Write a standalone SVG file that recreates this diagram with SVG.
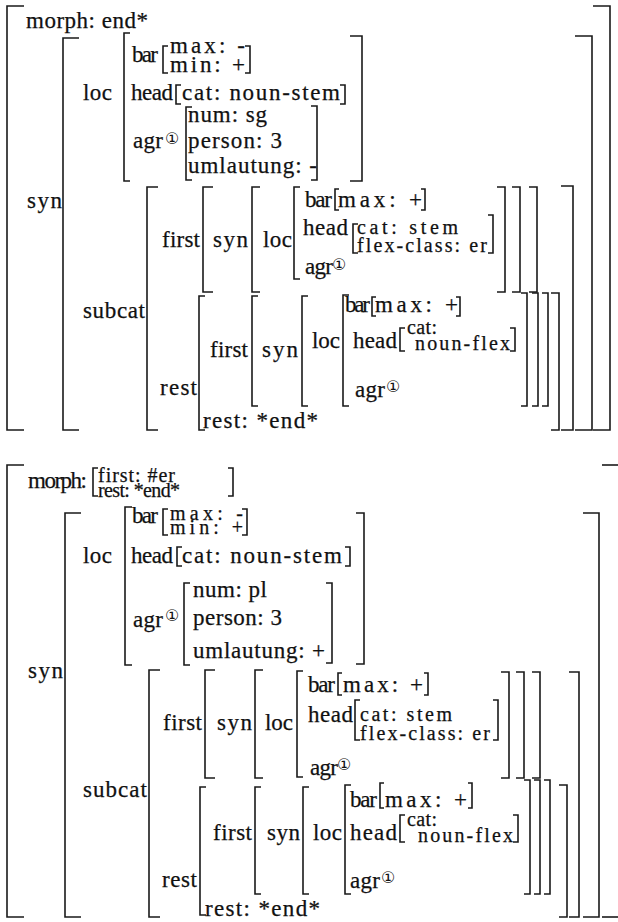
<svg xmlns="http://www.w3.org/2000/svg" width="618" height="922" viewBox="0 0 618 922">
<style>
.t{font-family:"Liberation Serif","Times New Roman",serif;font-size:23px;fill:#111;stroke:#111;stroke-width:0.25}
.s{font-size:20px}
.g{font-family:"DejaVu Sans","Noto Sans CJK SC",sans-serif;font-size:16px;fill:#111}
.b{fill:none;stroke:#1a1a1a;stroke-width:1.6}
</style>
<rect width="618" height="922" fill="#fff"/>
<g id="avm-top">
<g id="top-brackets" class="b">
<path d="M24,6H7V430H24"/><path d="M79,38H63V430H79"/><path d="M130,33H124V181H130"/>
<path d="M168,46H163V73H168"/><path d="M181,85H176V104H181"/><path d="M192,107H186V180H192"/>
<path d="M158,187H147V430H158"/><path d="M213,187H203V292H213"/><path d="M260,187H252V292H260"/>
<path d="M300,187H294V279H300"/><path d="M339,189H335V210H339"/><path d="M358,224H353V253H358"/>
<path d="M205,296H199V430H205"/><path d="M258,296H252V406H258"/><path d="M308,296H302V406H308"/>
<path d="M349,295H343V406H349"/><path d="M376,297H372V316H376"/><path d="M405,328H400V351H405"/>
<path d="M593,6H610V430H593"/><path d="M575,36H592V430H575"/><path d="M350,36H362V181H350"/>
<path d="M245,46H250V73H245"/><path d="M340,85H345V104H340"/><path d="M311,106H317V180H311"/>
<path d="M561,186H573V430H561"/><path d="M529,187H537V292H529"/><path d="M512,187H520V292H512"/>
<path d="M497,187H505V292H497"/><path d="M421,189H425V210H421"/><path d="M488,215H493V253H488"/>
<path d="M551,293H559V430H551"/><path d="M542,293H548V406H542"/><path d="M532,293H538V406H532"/>
<path d="M521,293H527V406H521"/><path d="M456,297H460V316H456"/><path d="M510,328H515V351H510"/>
</g>
<g id="top-text">
<text class="t" x="26" y="28" textLength="122" lengthAdjust="spacing">morph:  end*</text>
<text class="t" x="83" y="100" textLength="29">loc</text>
<text class="t" x="132" y="62" textLength="26">bar</text>
<text class="t" x="170" y="53" textLength="75" lengthAdjust="spacing">max:  -</text>
<text class="t" x="170" y="72" textLength="75" lengthAdjust="spacing">min:  +</text>
<text class="t" x="131" y="100" textLength="42">head</text>
<text class="t" x="182" y="100" textLength="158">cat: noun-stem</text>
<text class="t" x="133" y="148" textLength="30">agr</text><text class="g" x="165" y="144">①</text>
<text class="t" x="188" y="122" textLength="79">num: sg</text>
<text class="t" x="188" y="148" textLength="94">person: 3</text>
<text class="t" x="188" y="173" textLength="129">umlautung: -</text>
<text class="t" x="27" y="208" textLength="35">syn</text>
<text class="t" x="83" y="318" textLength="62">subcat</text>
<text class="t" x="162" y="247" textLength="38">first</text>
<text class="t" x="213" y="247" textLength="35">syn</text>
<text class="t" x="263" y="247" textLength="29">loc</text>
<text class="t" x="305" y="207" textLength="27">bar</text>
<text class="t" x="338" y="207" textLength="84">max: +</text>
<text class="t" x="303" y="235" textLength="45">head</text>
<text class="t s" x="357" y="234" textLength="101">cat: stem</text>
<text class="t s" x="357" y="252" textLength="130">flex-class: er</text>
<text class="t" x="305" y="274" textLength="28">agr</text><text class="g" x="332" y="270">①</text>
<text class="t" x="210" y="357" textLength="38">first</text>
<text class="t" x="262" y="357" textLength="36">syn</text>
<text class="t" x="312" y="348" textLength="28">loc</text>
<text class="t" x="345" y="312" textLength="25">bar</text>
<text class="t" x="375" y="312" textLength="83">max: +</text>
<text class="t" x="353" y="348" textLength="44">head</text>
<text class="t s" x="407" y="334" textLength="30">cat:</text>
<text class="t s" x="415" y="350" textLength="95">noun-flex</text>
<text class="t" x="355" y="397" textLength="30">agr</text><text class="g" x="386" y="392">①</text>
<text class="t" x="160" y="395" textLength="37">rest</text>
<text class="t" x="203" y="428" textLength="115">rest: *end*</text>
</g>
</g>
<g id="avm-bottom">
<g id="bottom-brackets" class="b">
<path d="M24,465H7V917H24"/><path d="M98,468H93V496H98"/><path d="M81,513H65V917H81"/>
<path d="M132,507H125V665H132"/><path d="M168,509H163V535H168"/><path d="M182,547H177V566H182"/>
<path d="M190,583H184V665H190"/><path d="M160,670H149V917H160"/><path d="M215,670H205V778H215"/>
<path d="M263,670H255V778H263"/><path d="M303,671H297V777H303"/><path d="M342,673H338V695H342"/>
<path d="M360,700H355V740H360"/><path d="M206,787H200V915H206"/><path d="M261,787H255V894H261"/>
<path d="M309,787H303V894H309"/><path d="M351,785H345V894H351"/><path d="M384,783H380V808H384"/>
<path d="M405,815H400V842H405"/>
<path d="M602,465H618"/><path d="M602,917H618"/>
<path d="M228,468H233V496H228"/><path d="M583,513H599V917H583"/><path d="M356,513H364V664H356"/>
<path d="M242,509H247V535H242"/><path d="M345,547H350V566H345"/><path d="M326,583H332V663H326"/>
<path d="M569,672H579V917H569"/><path d="M532,672H540V778H532"/><path d="M516,672H524V778H516"/>
<path d="M501,672H509V778H501"/><path d="M424,673H428V695H424"/><path d="M493,700H498V740H493"/>
<path d="M559,785H567V917H559"/><path d="M544,780H550V894H544"/><path d="M534,780H540V894H534"/>
<path d="M524,780H530V894H524"/><path d="M468,783H472V808H468"/><path d="M513,815H518V842H513"/>
</g>
<g id="bottom-text">
<text class="t" x="28" y="488" textLength="59">morph:</text>
<text class="t s" x="98" y="482" textLength="77">first: #er</text>
<text class="t s" x="98" y="497" textLength="82">rest: *end*</text>
<text class="t" x="83" y="563" textLength="29">loc</text>
<text class="t" x="132" y="523" textLength="26">bar</text>
<text class="t s" x="170" y="520" textLength="73" lengthAdjust="spacing">max:  -</text>
<text class="t s" x="170" y="534" textLength="73" lengthAdjust="spacing">min:  +</text>
<text class="t" x="131" y="563" textLength="42">head</text>
<text class="t" x="182" y="563" textLength="160">cat: noun-stem</text>
<text class="t" x="133" y="627" textLength="30">agr</text><text class="g" x="165" y="621">①</text>
<text class="t" x="193" y="597" textLength="74">num: pl</text>
<text class="t" x="193" y="625" textLength="89">person: 3</text>
<text class="t" x="193" y="658" textLength="132">umlautung: +</text>
<text class="t" x="28" y="678" textLength="35">syn</text>
<text class="t" x="163" y="730" textLength="39">first</text>
<text class="t" x="217" y="730" textLength="35">syn</text>
<text class="t" x="265" y="730" textLength="28">loc</text>
<text class="t" x="308" y="692" textLength="27">bar</text>
<text class="t" x="343" y="692" textLength="80">max: +</text>
<text class="t" x="308" y="722" textLength="45">head</text>
<text class="t s" x="360" y="721" textLength="92">cat: stem</text>
<text class="t s" x="360" y="740" textLength="130">flex-class: er</text>
<text class="t" x="310" y="775" textLength="28">agr</text><text class="g" x="337" y="770">①</text>
<text class="t" x="83" y="797" textLength="64">subcat</text>
<text class="t" x="213" y="840" textLength="39">first</text>
<text class="t" x="267" y="840" textLength="33">syn</text>
<text class="t" x="313" y="840" textLength="29">loc</text>
<text class="t" x="350" y="807" textLength="27">bar</text>
<text class="t" x="385" y="807" textLength="82">max: +</text>
<text class="t" x="350" y="840" textLength="47">head</text>
<text class="t s" x="407" y="826" textLength="30">cat:</text>
<text class="t s" x="418" y="842" textLength="95">noun-flex</text>
<text class="t" x="350" y="888" textLength="30">agr</text><text class="g" x="381" y="883">①</text>
<text class="t" x="162" y="887" textLength="35">rest</text>
<text class="t" x="205" y="916" textLength="115">rest: *end*</text>
</g>
</g>
</svg>
